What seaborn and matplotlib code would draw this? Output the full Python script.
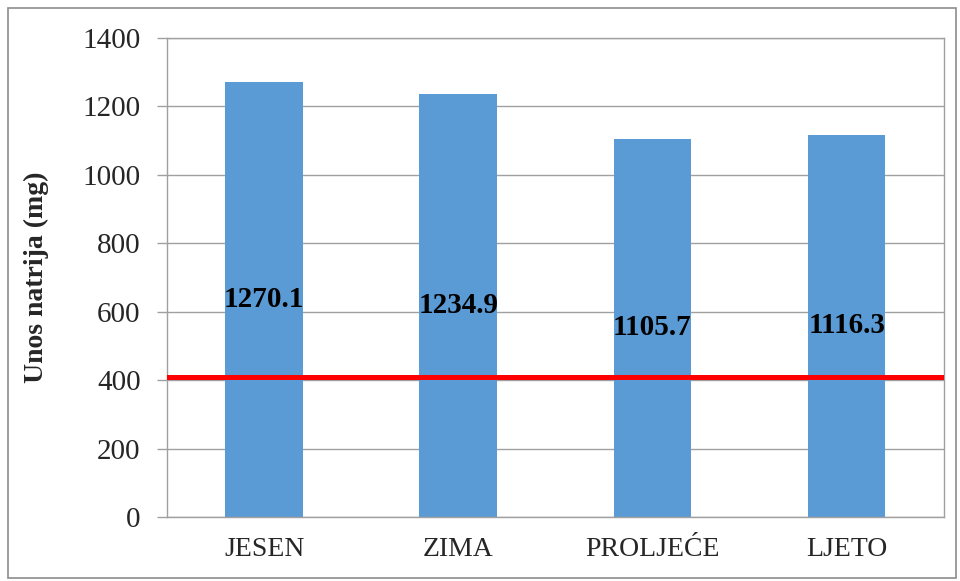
import matplotlib

matplotlib.use("Agg")
import matplotlib.pyplot as plt
import pandas as pd
import seaborn as sns
from matplotlib.patches import Rectangle

seasons = ["JESEN", "ZIMA", "PROLJEĆE", "LJETO"]
sodium_mg = [1270.1, 1234.9, 1105.7, 1116.3]
reference_mg = 410
y_ticks = [0, 200, 400, 600, 800, 1000, 1200, 1400]

sns.set_theme(style="whitegrid")
plt.rcParams["font.family"] = ["Liberation Serif", "DejaVu Serif"]

df = pd.DataFrame({"season": seasons, "sodium": sodium_mg})

fig = plt.figure(figsize=(9.6, 5.81), dpi=100)
ax = fig.add_axes([0.174, 0.110, 0.809, 0.825])

sns.barplot(data=df, x="season", y="sodium", color="#5B9BD5", width=0.4,
            saturation=1, edgecolor="#5B9BD5", linewidth=0, ax=ax)

# value labels sit in the middle of each bar
for i, v in enumerate(sodium_mg):
    ax.text(i, v / 2, f"{v:.1f}", ha="center", va="center",
            fontsize=21, fontweight="bold", color="black")

ax.axhline(reference_mg, color="#FF0000", linewidth=3.6, zorder=5)

ax.set_ylim(0, 1400)
ax.set_yticks(y_ticks)
ax.set_xlim(-0.5, 3.5)
ax.set_xlabel("")
ax.set_ylabel("Unos natrija (mg)", fontsize=20, fontweight="bold", labelpad=24)
ax.tick_params(axis="y", labelsize=21, length=7, width=1, color="#A0A0A0",
               direction="out", left=True, pad=12)
ax.tick_params(axis="x", labelsize=20, length=0, pad=14)
ax.grid(axis="y", color="#A0A0A0", linewidth=1)
ax.grid(axis="x", visible=False)
ax.set_axisbelow(True)
for s in ax.spines.values():
    s.set_visible(True)
    s.set_color("#A0A0A0")
    s.set_linewidth(1)
ax.set_facecolor("white")

fig.patches.append(Rectangle((0.008, 0.005), 0.988, 0.982, transform=fig.transFigure,
                             fill=False, edgecolor="#8C8C8C", linewidth=1.2))

fig.savefig("out.png", dpi=100, facecolor="white")
plt.close(fig)
